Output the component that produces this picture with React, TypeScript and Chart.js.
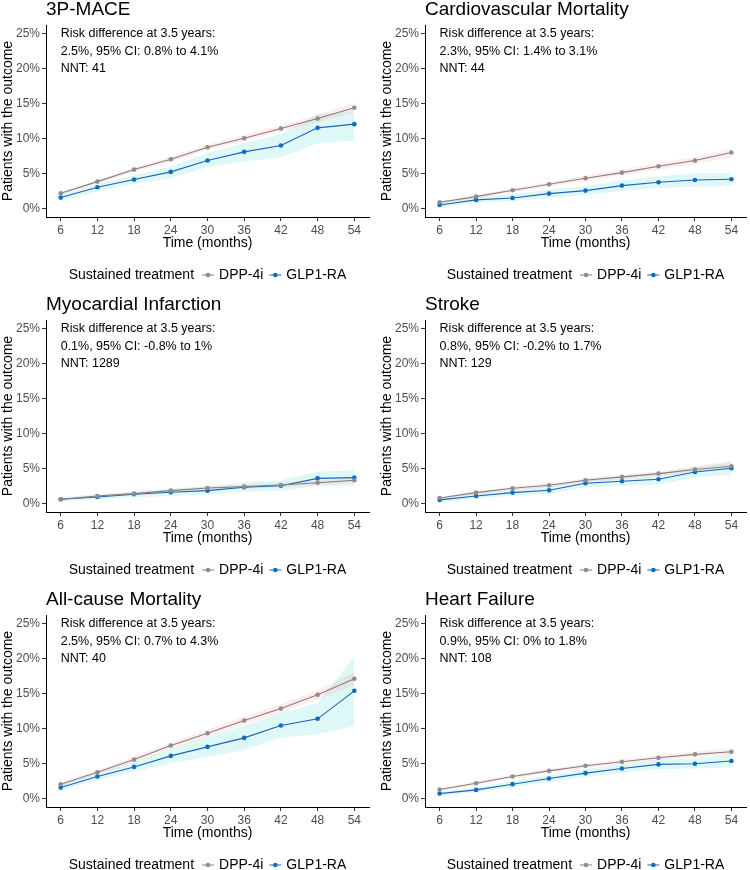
import React, { useEffect, useRef } from 'react';
import { Chart, registerables } from 'chart.js';

Chart.register(...registerables);

// ---------- data ----------
const months = [6, 12, 18, 24, 30, 36, 42, 48, 54];
const yTicks = [0, 5, 10, 15, 20, 25];
const seriesNames = ['DPP-4i', 'GLP1-RA'];
const legendTitle = 'Sustained treatment';
const xTitle = 'Time (months)';
const yTitle = 'Patients with the outcome';

// 3P-MACE
const maceDpp = [2.15, 3.82, 5.54, 7.03, 8.75, 10.04, 11.42, 12.86, 14.4];
const maceDppLo = [1.95, 3.55, 5.2, 6.65, 8.35, 9.6, 10.95, 12.3, 13.8];
const maceDppHi = [2.35, 4.1, 5.85, 7.4, 9.15, 10.5, 11.9, 13.4, 15.1];
const maceGlp = [1.53, 3.01, 4.11, 5.21, 6.84, 8.08, 8.99, 11.52, 12.05];
const maceGlpLo = [1.0, 2.4, 3.5, 4.3, 5.9, 6.7, 7.3, 9.3, 9.7];
const maceGlpHi = [2.0, 3.5, 4.7, 6.0, 7.9, 9.3, 10.6, 13.5, 13.9];

// Cardiovascular Mortality
const cvDpp = [0.86, 1.67, 2.58, 3.44, 4.3, 5.11, 6.02, 6.84, 7.98];
const cvDppLo = [0.7, 1.45, 2.3, 3.1, 3.9, 4.7, 5.55, 6.3, 7.35];
const cvDppHi = [1.0, 1.9, 2.85, 3.75, 4.7, 5.55, 6.5, 7.35, 8.6];
const cvGlp = [0.48, 1.2, 1.48, 2.1, 2.53, 3.25, 3.73, 4.06, 4.16];
const cvGlpLo = [0.2, 0.8, 1.0, 1.5, 1.9, 2.5, 2.9, 3.1, 3.2];
const cvGlpHi = [0.8, 1.6, 2.0, 2.7, 3.2, 4.0, 4.6, 5.0, 5.1];

// Myocardial Infarction
const miDpp = [0.57, 1.05, 1.38, 1.81, 2.19, 2.38, 2.62, 2.95, 3.29];
const miDppLo = [0.45, 0.9, 1.2, 1.6, 1.95, 2.1, 2.3, 2.6, 2.9];
const miDppHi = [0.7, 1.2, 1.55, 2.0, 2.45, 2.65, 2.95, 3.3, 3.7];
const miGlp = [0.57, 0.9, 1.29, 1.57, 1.81, 2.29, 2.52, 3.57, 3.67];
const miGlpLo = [0.3, 0.55, 0.85, 1.05, 1.25, 1.65, 1.8, 2.5, 2.5];
const miGlpHi = [0.85, 1.3, 1.75, 2.1, 2.4, 3.0, 3.3, 4.5, 4.8];

// Stroke
const stDpp = [0.76, 1.53, 2.15, 2.58, 3.3, 3.78, 4.25, 4.83, 5.31];
const stDppLo = [0.6, 1.3, 1.9, 2.3, 3.0, 3.45, 3.9, 4.45, 4.85];
const stDppHi = [0.9, 1.75, 2.4, 2.85, 3.6, 4.1, 4.6, 5.2, 5.8];
const stGlp = [0.48, 1.05, 1.53, 1.86, 2.87, 3.15, 3.44, 4.49, 5.02];
const stGlpLo = [0.2, 0.7, 1.1, 1.35, 2.3, 2.5, 2.7, 3.7, 4.1];
const stGlpHi = [0.8, 1.4, 2.0, 2.4, 3.5, 3.8, 4.2, 5.3, 6.0];

// All-cause Mortality
const acDpp = [2.0, 3.73, 5.54, 7.55, 9.32, 11.14, 12.86, 14.82, 17.11];
const acDppLo = [1.75, 3.4, 5.1, 7.1, 8.8, 10.6, 12.2, 14.1, 16.2];
const acDppHi = [2.25, 4.05, 5.95, 8.0, 9.85, 11.7, 13.5, 15.5, 18.0];
const acGlp = [1.53, 3.11, 4.49, 6.07, 7.36, 8.65, 10.42, 11.38, 15.39];
const acGlpLo = [1.1, 2.6, 3.8, 5.0, 5.9, 6.9, 8.7, 9.2, 10.3];
const acGlpHi = [2.0, 3.6, 5.2, 7.1, 8.8, 10.4, 12.2, 13.6, 20.3];

// Heart Failure
const hfDpp = [1.25, 2.16, 3.12, 3.93, 4.65, 5.23, 5.81, 6.29, 6.67];
const hfDppLo = [1.05, 1.95, 2.85, 3.65, 4.35, 4.9, 5.45, 5.9, 6.25];
const hfDppHi = [1.45, 2.4, 3.4, 4.2, 4.95, 5.55, 6.15, 6.7, 7.1];
const hfGlp = [0.67, 1.2, 2.02, 2.83, 3.6, 4.27, 4.85, 4.94, 5.33];
const hfGlpLo = [0.4, 0.85, 1.6, 2.35, 3.05, 3.65, 4.15, 4.25, 4.4];
const hfGlpHi = [0.95, 1.55, 2.45, 3.3, 4.15, 4.9, 5.55, 5.7, 6.3];

const panels = [
  { title: '3P-MACE', note: ['Risk difference at 3.5 years:', '2.5%, 95% CI: 0.8% to 4.1%', 'NNT: 41'],
    dpp: maceDpp, dppLo: maceDppLo, dppHi: maceDppHi, glp: maceGlp, glpLo: maceGlpLo, glpHi: maceGlpHi },
  { title: 'Cardiovascular Mortality', note: ['Risk difference at 3.5 years:', '2.3%, 95% CI: 1.4% to 3.1%', 'NNT: 44'],
    dpp: cvDpp, dppLo: cvDppLo, dppHi: cvDppHi, glp: cvGlp, glpLo: cvGlpLo, glpHi: cvGlpHi },
  { title: 'Myocardial Infarction', note: ['Risk difference at 3.5 years:', '0.1%, 95% CI: -0.8% to 1%', 'NNT: 1289'],
    dpp: miDpp, dppLo: miDppLo, dppHi: miDppHi, glp: miGlp, glpLo: miGlpLo, glpHi: miGlpHi },
  { title: 'Stroke', note: ['Risk difference at 3.5 years:', '0.8%, 95% CI: -0.2% to 1.7%', 'NNT: 129'],
    dpp: stDpp, dppLo: stDppLo, dppHi: stDppHi, glp: stGlp, glpLo: stGlpLo, glpHi: stGlpHi },
  { title: 'All-cause Mortality', note: ['Risk difference at 3.5 years:', '2.5%, 95% CI: 0.7% to 4.3%', 'NNT: 40'],
    dpp: acDpp, dppLo: acDppLo, dppHi: acDppHi, glp: acGlp, glpLo: acGlpLo, glpHi: acGlpHi },
  { title: 'Heart Failure', note: ['Risk difference at 3.5 years:', '0.9%, 95% CI: 0% to 1.8%', 'NNT: 108'],
    dpp: hfDpp, dppLo: hfDppLo, dppHi: hfDppHi, glp: hfGlp, glpLo: hfGlpLo, glpHi: hfGlpHi },
];

// ---------- styles ----------
const FONT = '"Liberation Sans", Arial, Helvetica, sans-serif';
const DPP_LINE = '#877f7f';
const DPP_POINT = '#8e8e8e';
const GLP_LINE = '#1f63b8';
const GLP_POINT = '#0b6fc0';
const DPP_BAND = 'rgba(248,118,109,0.13)';
const GLP_BAND = 'rgba(0,191,196,0.13)';
const NOTE_X = 6;
const NOTE_Y = [25, 22.5, 20];

const decorPlugin = {
  id: 'decor',
  afterDraw(chart: any, _args: any, opts: any) {
    const { ctx, chartArea, scales } = chart;
    ctx.save();
    ctx.fillStyle = '#000';
    ctx.textAlign = 'left';
    // title
    ctx.font = `19px ${FONT}`;
    ctx.textBaseline = 'alphabetic';
    ctx.fillText(opts.title, chartArea.left, 20);
    // annotation
    ctx.font = `12.5px ${FONT}`;
    ctx.textBaseline = 'middle';
    const ax = scales.x.getPixelForValue(NOTE_X);
    (opts.note as string[]).forEach((line, i) => {
      ctx.fillText(line, ax, scales.y.getPixelForValue(NOTE_Y[i]));
    });
    // legend
    ctx.font = `14px ${FONT}`;
    const ly = 280;
    const w0 = ctx.measureText(legendTitle).width;
    const w1 = ctx.measureText(seriesNames[0]).width;
    const w2 = ctx.measureText(seriesNames[1]).width;
    const total = w0 + 14 + 11 + w1 + 12 + 11 + w2;
    let x = (chartArea.left + chartArea.right) / 2 - total / 2;
    const key = (cx: number, lc: string, pc: string) => {
      ctx.strokeStyle = lc;
      ctx.lineWidth = 1;
      ctx.beginPath();
      ctx.moveTo(cx - 6, ly);
      ctx.lineTo(cx + 6, ly);
      ctx.stroke();
      ctx.fillStyle = pc;
      ctx.beginPath();
      ctx.arc(cx, ly, 2.3, 0, Math.PI * 2);
      ctx.fill();
      ctx.fillStyle = '#000';
    };
    ctx.fillText(legendTitle, x, ly);
    x += w0 + 14;
    key(x, DPP_LINE, DPP_POINT);
    x += 11;
    ctx.fillText(seriesNames[0], x, ly);
    x += w1 + 12;
    key(x, GLP_LINE, GLP_POINT);
    x += 11;
    ctx.fillText(seriesNames[1], x, ly);
    ctx.restore();
  },
};

function Panel({ p, width, height }: { p: any; width: number; height: number }) {
  const ref = useRef<HTMLCanvasElement>(null);
  useEffect(() => {
    if (!ref.current) return;
    const pts = (arr: number[]) => months.map((m, i) => ({ x: m, y: arr[i] }));
    const band = (arr: number[], color: string, fill: any) => ({
      type: 'line' as const,
      data: pts(arr),
      borderWidth: 0,
      pointRadius: 0,
      backgroundColor: color,
      fill,
    });
    const chart = new Chart(ref.current, {
      type: 'line',
      data: {
        datasets: [
          band(p.dppHi, DPP_BAND, '+1'),
          band(p.dppLo, DPP_BAND, false),
          band(p.glpHi, GLP_BAND, '+1'),
          band(p.glpLo, GLP_BAND, false),
          {
            label: seriesNames[0],
            data: pts(p.dpp),
            borderColor: DPP_LINE,
            borderWidth: 1.1,
            pointRadius: 2.3,
            pointBorderWidth: 0,
            pointBackgroundColor: DPP_POINT,
            fill: false,
            tension: 0,
          },
          {
            label: seriesNames[1],
            data: pts(p.glp),
            borderColor: GLP_LINE,
            borderWidth: 1.1,
            pointRadius: 2.3,
            pointBorderWidth: 0,
            pointBackgroundColor: GLP_POINT,
            fill: false,
            tension: 0,
          },
        ],
      },
      options: {
        responsive: false,
        animation: false,
        devicePixelRatio: 1,
        layout: { padding: { top: 30, left: 0, right: width - 369, bottom: height - 30 - 192 - 35 } },
        plugins: {
          legend: { display: false },
          tooltip: { enabled: false },
          title: { display: false },
          filler: { drawTime: 'beforeDatasetsDraw' },
          decor: { title: p.title, note: p.note },
        } as any,
        scales: {
          x: {
            type: 'linear',
            min: 3.6,
            max: 56.4,
            afterBuildTicks: (s: any) => { s.ticks = months.map((v) => ({ value: v })); },
            afterFit: (s: any) => { s.height = 35; },
            ticks: {
              color: '#4d4d4d',
              font: { family: FONT, size: 12 },
              padding: 2,
              maxRotation: 0,
              autoSkip: false,
              callback: (v: any) => String(v),
            },
            grid: { display: true, drawOnChartArea: false, drawTicks: true, tickLength: 4, color: '#333', lineWidth: 1 },
            border: { display: true, color: '#000', width: 1 },
            title: { display: true, text: xTitle, color: '#000', font: { family: FONT, size: 14 }, padding: { top: 0, bottom: 0 } },
          },
          y: {
            type: 'linear',
            min: -1.25,
            max: 26.25,
            afterBuildTicks: (s: any) => { s.ticks = yTicks.map((v) => ({ value: v })); },
            afterFit: (s: any) => { s.width = 46; },
            ticks: {
              color: '#4d4d4d',
              font: { family: FONT, size: 12 },
              padding: 2,
              callback: (v: any) => `${v}%`,
            },
            grid: { display: true, drawOnChartArea: false, drawTicks: true, tickLength: 4, color: '#333', lineWidth: 1 },
            border: { display: true, color: '#000', width: 1 },
            title: { display: true, text: yTitle, color: '#000', font: { family: FONT, size: 14 }, padding: { top: 0, bottom: 0 } },
          },
        },
      },
      plugins: [decorPlugin],
    });
    return () => chart.destroy();
  }, [p, width, height]);
  return <canvas ref={ref} width={width} height={height} style={{ width, height, display: 'block' }} />;
}

export default function App() {
  const H = 295;
  return (
    <div style={{ position: 'absolute', left: 0, top: 0, width: 750, height: 870, overflow: 'hidden', background: '#fff' }}>
      {panels.map((p, i) => {
        const row = Math.floor(i / 2);
        const col = i % 2;
        const left = col === 0 ? 0 : 379;
        const width = col === 0 ? 375 : 371;
        const top = -5 + row * 295;
        return (
          <div key={p.title} style={{ position: 'absolute', left, top, width, height: H }}>
            <Panel p={p} width={width} height={H} />
          </div>
        );
      })}
    </div>
  );
}
